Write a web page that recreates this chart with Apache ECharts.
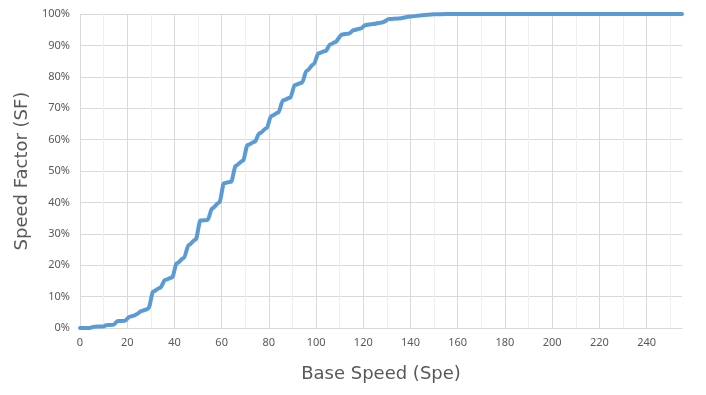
<!DOCTYPE html>
<html>
<head>
<meta charset="utf-8">
<script src="https://cdn.jsdelivr.net/npm/echarts@6/dist/echarts.min.js"></script>
<style>html,body{margin:0;padding:0;background:#fff}#c{width:706px;height:395px}</style>
</head>
<body>
<div id="c"></div>
<script>
const baseSpeed = [0, 4, 6, 10, 11, 14, 16, 19, 21, 23, 24, 26, 28.5, 29, 31, 34, 36, 39, 41, 44, 46, 49, 51, 54, 56, 59, 61, 64, 66, 69, 71, 74, 76, 79, 81, 84, 86, 89, 91, 94, 96, 99, 101, 104, 106, 108, 111, 114, 116, 119, 121, 124, 128, 131, 135, 140, 145, 150, 155, 255];
const speedFactor = [0, 0, 0.4, 0.5, 0.9, 1.0, 2.2, 2.3, 3.6, 4.0, 4.4, 5.4, 6.0, 6.3, 11.6, 12.8, 15.3, 16.1, 20.6, 22.3, 26.4, 28.2, 34.2, 34.4, 38.1, 40.0, 46.1, 46.6, 51.7, 53.3, 58.3, 59.3, 62.0, 63.6, 67.5, 68.6, 72.5, 73.3, 77.4, 78.1, 81.9, 84.0, 87.5, 88.2, 90.3, 91.0, 93.5, 93.8, 94.9, 95.4, 96.5, 96.8, 97.3, 98.4, 98.6, 99.2, 99.6, 99.9, 100, 100];
const xTitle = 'Base Speed (Spe)';
const yTitle = 'Speed Factor (SF)';

const points = baseSpeed.map((x, i) => [x, speedFactor[i]]);
const FONT = 'Noto Sans';
const TFONT = 'DejaVu Sans';
const chart = echarts.init(document.getElementById('c'), null, {renderer: 'canvas'});
chart.setOption({
  animation: false,
  backgroundColor: '#ffffff',
  grid: {left: 80, right: 24, top: 14, bottom: 67, containLabel: false},
  xAxis: [{
    type: 'value', min: 0, max: 255, interval: 20,
    name: xTitle, nameLocation: 'middle', nameGap: 37,
    nameTextStyle: {fontFamily: TFONT, fontSize: 18, color: '#595959'},
    axisLine: {show: true, lineStyle: {color: '#d9d9d9', width: 1}},
    axisTick: {show: false},
    axisLabel: {fontFamily: FONT, fontSize: 11, color: '#595959', margin: 9, showMaxLabel: false},
    splitLine: {show: true, showMaxLine: false, lineStyle: {color: '#d9d9d9', width: 1}},
    minorTick: {show: false, splitNumber: 2},
    minorSplitLine: {show: true, lineStyle: {color: '#efefef', width: 1}}
  }],
  yAxis: [{
    type: 'value', min: 0, max: 100, interval: 10,
    name: yTitle, nameLocation: 'middle', nameGap: 45,
    nameTextStyle: {fontFamily: TFONT, fontSize: 18, color: '#595959'},
    axisLine: {show: false},
    axisTick: {show: false},
    axisLabel: {fontFamily: FONT, fontSize: 11, color: '#595959', margin: 10, formatter: v => v + '%'},
    splitLine: {show: true, lineStyle: {color: '#d9d9d9', width: 1}}
  }],
  series: [{
    type: 'line',
    data: points,
    showSymbol: false,
    smooth: 0.3,
    smoothMonotone: 'x',
    lineStyle: {color: '#5b9bd5', width: 4, cap: 'round', join: 'round'},
    itemStyle: {color: '#5b9bd5'},
    z: 5
  }]
});
</script>
</body>
</html>
